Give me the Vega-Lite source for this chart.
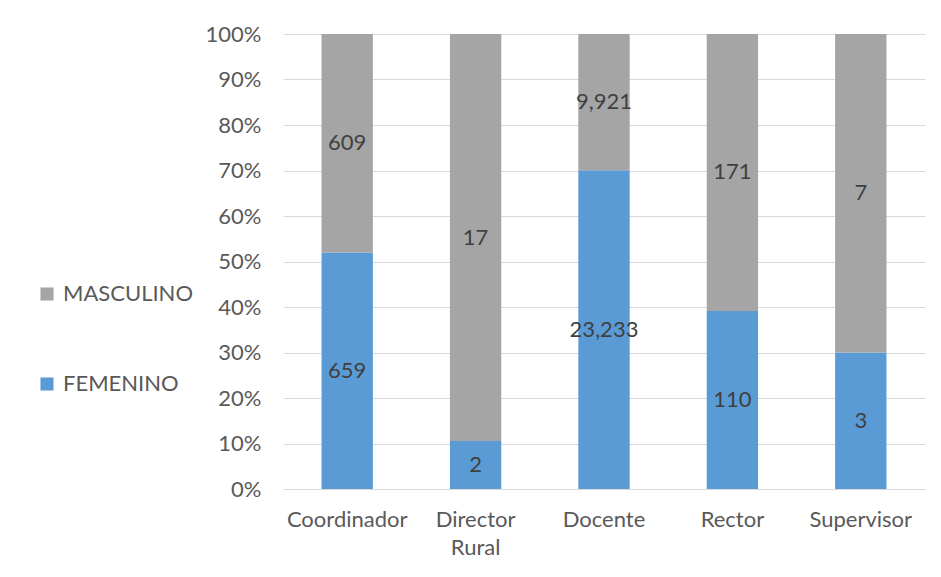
{
  "$schema": "https://vega.github.io/schema/vega-lite/v6.json",
  "width": 642,
  "height": 455,
  "autosize": {"type": "none"},
  "padding": {"left": 283, "top": 34, "right": 16, "bottom": 88},
  "background": "white",
  "config": {
    "font": "Lato",
    "view": {"stroke": null},
    "axis": {"labelFont": "Lato", "labelFontSize": 22, "labelColor": "#595959", "ticks": false, "labelOverlap": false, "labelFlush": false},
    "legend": {"labelFont": "Lato"}
  },
  "data": {
    "values": [
      {"cargo": "Coordinador", "genero": "FEMENINO", "count": 659},
      {"cargo": "Coordinador", "genero": "MASCULINO", "count": 609},
      {"cargo": "Director Rural", "genero": "FEMENINO", "count": 2},
      {"cargo": "Director Rural", "genero": "MASCULINO", "count": 17},
      {"cargo": "Docente", "genero": "FEMENINO", "count": 23233},
      {"cargo": "Docente", "genero": "MASCULINO", "count": 9921},
      {"cargo": "Rector", "genero": "FEMENINO", "count": 110},
      {"cargo": "Rector", "genero": "MASCULINO", "count": 171},
      {"cargo": "Supervisor", "genero": "FEMENINO", "count": 3},
      {"cargo": "Supervisor", "genero": "MASCULINO", "count": 7}
    ]
  },
  "transform": [
    {"stack": "count", "groupby": ["cargo"], "offset": "normalize", "sort": [{"field": "genero", "order": "ascending"}], "as": ["y0", "y1"]}
  ],
  "encoding": {
    "x": {
      "field": "cargo", "type": "nominal", "title": null,
      "scale": {"paddingInner": 0.6, "paddingOuter": 0.3},
      "axis": {
        "labelAngle": 0, "domainColor": "#d9d9d9", "domainWidth": 1, "labelPadding": 20, "labelLineHeight": 28,
        "labelExpr": "datum.label == 'Director Rural' ? ['Director', 'Rural'] : datum.label",
        "labelBaseline": "top"
      }
    }
  },
  "resolve": {"axis": {"y": "shared"}},
  "layer": [
    {
      "mark": {"type": "bar"},
      "encoding": {
        "y": {
          "field": "y1", "type": "quantitative", "title": null,
          "scale": {"domain": [0, 1], "nice": false},
          "axis": {"format": ".0%", "values": [0,0.1,0.2,0.3,0.4,0.5,0.6,0.7,0.8,0.9,1], "domain": false, "gridColor": "#d9d9d9", "gridWidth": 1, "labelPadding": 22}
        },
        "y2": {"field": "y0"},
        "color": {
          "field": "genero", "type": "nominal",
          "scale": {"domain": ["MASCULINO", "FEMENINO"], "range": ["#A5A5A5", "#5B9BD5"]},
          "legend": {
            "title": null, "orient": "none", "legendX": -247, "legendY": 249,
            "symbolType": "square", "symbolSize": 170, "symbolStrokeWidth": 0,
            "labelFontSize": 22, "labelColor": "#595959", "labelOffset": 5, "rowPadding": 68
          }
        }
      }
    },
    {
      "transform": [
        {"fold": ["y0", "y1"], "as": ["k", "v"]},
        {"aggregate": [{"op": "mean", "field": "v", "as": "mid"}], "groupby": ["cargo", "genero", "count"]}
      ],
      "mark": {"type": "text", "baseline": "middle", "align": "center", "fontSize": 22, "color": "#404040", "font": "Lato"},
      "encoding": {
        "y": {
          "field": "mid", "type": "quantitative", "title": null,
          "axis": {"format": ".0%", "values": [0,0.1,0.2,0.3,0.4,0.5,0.6,0.7,0.8,0.9,1], "domain": false, "gridColor": "#d9d9d9", "gridWidth": 1, "labelPadding": 22}
        },
        "text": {"field": "count", "type": "quantitative", "format": ","}
      }
    }
  ]
}
